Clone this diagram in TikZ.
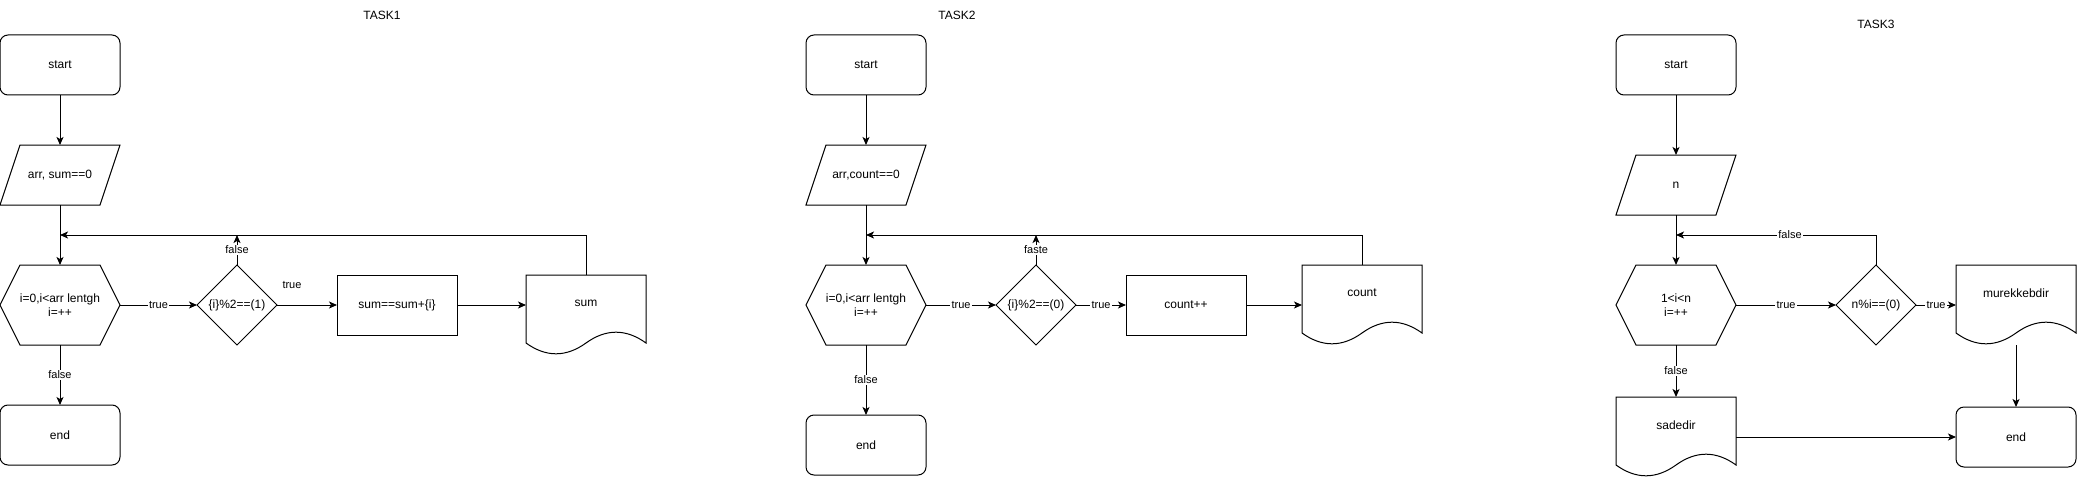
\documentclass[tikz,border=0pt]{standalone}
\usepackage{fontspec}
\setmainfont{Liberation Sans}
\usetikzlibrary{shapes.geometric,arrows.meta,calc}

\tikzset{
  thinln/.style={line width=0.75pt, draw=black},
  arr/.style={thinln, -{Stealth[length=6pt,width=5.25pt,inset=1.5pt]}},
  txt/.style={font=\fontsize{9pt}{10.5pt}\selectfont, align=center, inner sep=0pt, outer sep=0pt},
  term/.style={txt, thinln, draw, rounded corners=6pt, minimum width=90pt, minimum height=45pt},
  procbox/.style={txt, thinln, draw, minimum width=90pt, minimum height=45pt},
  iobox/.style={txt, minimum width=90pt, minimum height=45pt},
  hexbox/.style={txt, minimum width=90pt, minimum height=60pt},
  decision/.style={txt, thinln, draw, diamond, aspect=1, minimum width=60pt, minimum height=60pt},
  docbox/.style={txt, minimum width=90pt, minimum height=42pt},
  lbl/.style={font=\fontsize{8.25pt}{9pt}\selectfont, fill=white, inner sep=1pt},
  ttl/.style={font=\fontsize{9pt}{10pt}\selectfont, inner sep=0pt},
}

\newcommand{\paraoutline}[1]{\draw[thinln] (#1.south west) -- ($(#1.south east)+(-20,0)$) -- (#1.north east) -- ($(#1.north west)+(20,0)$) -- cycle;}
\newcommand{\hexoutline}[1]{\draw[thinln] (#1.west) -- ($(#1.north west)+(20,0)$) -- ($(#1.north east)+(-20,0)$) -- (#1.east) -- ($(#1.south east)+(-20,0)$) -- ($(#1.south west)+(20,0)$) -- cycle;}
\newcommand{\docoutline}[1]{\draw[thinln] (#1.north west) -- (#1.north east) -- ($(#1.north west)+(120,68)$) .. controls ($(#1.north west)+(100,53.6)$) and ($(#1.north west)+(80,53.6)$) .. ($(#1.north west)+(60,68)$) .. controls ($(#1.north west)+(40,82.4)$) and ($(#1.north west)+(20,82.4)$) .. ($(#1.north west)+(0,68)$) -- cycle;}

\begin{document}
\begin{tikzpicture}[x=0.75pt,y=-0.75pt]
\fill[white] (0,0) rectangle (2077,478);
\useasboundingbox (0,0) rectangle (2077,478);

% ---------- titles
\node[ttl] (t1) at (382,15) {TASK1};
\node[ttl] (t2) at (957,15) {TASK2};
\node[ttl] (t3) at (1876,24) {TASK3};

% ---------- TASK1
\node[term] (s1) at (60,65) {start};
\node[iobox] (p1) at (60,175) {arr, sum==0};
\node[hexbox] (h1) at (60,305) {i=0,i<arr lentgh\\i=++};
\node[decision] (d1) at (237,305) {\{i\}\%2==(1)};
\node[procbox] (b1) at (397,305) {sum==sum+\{i\}};
\node[docbox] (o1) at (586,303) {sum};
\node[term] (e1) at (60,435) {end};
\coordinate (j1) at (60,235);
\paraoutline{p1}
\hexoutline{h1}
\docoutline{o1}

\draw[arr] (s1.south) -- (p1.north);
\draw[arr] (p1.south) -- (h1.north);
\draw[arr] (o1.north) |- (j1);
\draw[arr] (d1.north) -- (d1.north |- j1) node[lbl, midway] {false};
\draw[arr] (h1.east) -- (d1.west) node[lbl, midway] {true};
\draw[arr] (d1.east) -- (b1.west);
\node[lbl, fill=none] (tl1) at (292,285) {true};
\draw[arr] (b1.east) -- (b1.east -| o1.west);
\draw[arr] (h1.south) -- (e1.north) node[lbl, midway] {false};

% ---------- TASK2
\node[term] (s2) at (866,65) {start};
\node[iobox] (p2) at (866,175) {arr,count==0};
\node[hexbox] (h2) at (866,305) {i=0,i<arr lentgh\\i=++};
\node[decision] (d2) at (1036,305) {\{i\}\%2==(0)};
\node[procbox] (b2) at (1186,305) {count++};
\node[docbox] (o2) at (1362,293) {count};
\node[term] (e2) at (866,445) {end};
\coordinate (j2) at (866,235);
\paraoutline{p2}
\hexoutline{h2}
\docoutline{o2}

\draw[arr] (s2.south) -- (p2.north);
\draw[arr] (p2.south) -- (h2.north);
\draw[arr] (o2.north) |- (j2);
\draw[arr] (d2.north) -- (d2.north |- j2) node[lbl, midway] {faste};
\draw[arr] (h2.east) -- (d2.west) node[lbl, midway] {true};
\draw[arr] (d2.east) -- (b2.west) node[lbl, midway] {true};
\draw[arr] (b2.east) -- (b2.east -| o2.west);
\draw[arr] (h2.south) -- (e2.north) node[lbl, midway] {false};

% ---------- TASK3
\node[term] (s3) at (1676,65) {start};
\node[iobox] (p3) at (1676,185) {n};
\node[hexbox] (h3) at (1676,305) {1<i<n\\i=++};
\node[decision] (d3) at (1876,305) {n\%i==(0)};
\node[docbox] (o3) at (2016,293) {murekkebdir};
\node[docbox] (sd) at (1676,425) {sadedir};
\node[term] (e3) at (2016,437) {end};
\coordinate (j3) at (1676,235);
\coordinate (o3b) at ($(o3.south)+(0,24)$);
\paraoutline{p3}
\hexoutline{h3}
\docoutline{o3}
\docoutline{sd}

\draw[arr] (s3.south) -- (p3.north);
\draw[arr] (p3.south) -- (h3.north);
\draw[arr] (d3.north) |- (j3) node[lbl, pos=0.715] {false};
\draw[arr] (h3.east) -- (d3.west) node[lbl, midway] {true};
\draw[arr] (d3.east) -- (d3.east -| o3.west) node[lbl, midway] {true};
\draw[arr] (o3b) -- (e3.north);
\draw[arr] (h3.south) -- (sd.north) node[lbl, midway] {false};
\draw[arr] (e3.west -| sd.east) -- (e3.west);
\end{tikzpicture}
\end{document}
